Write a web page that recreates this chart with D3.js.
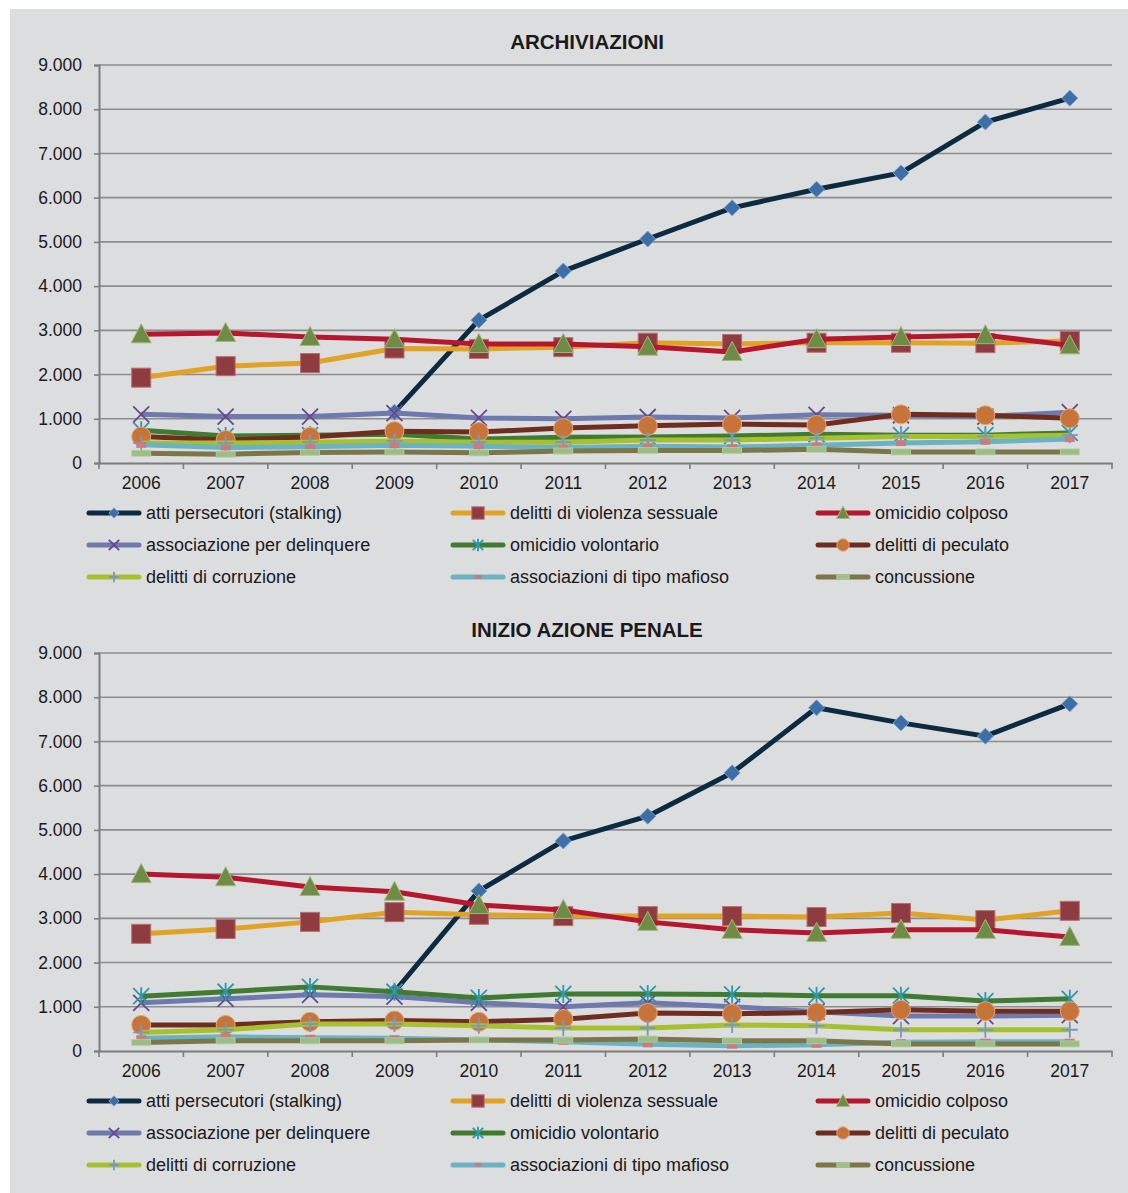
<!DOCTYPE html>
<html><head><meta charset="utf-8">
<script src="https://cdn.jsdelivr.net/npm/d3@7"></script>
<style>
html,body{margin:0;padding:0;background:#fff;}
svg{display:block;font-family:"Liberation Sans",Arial,sans-serif;}
</style></head>
<body>
<svg id="chart" width="1128" height="1193"></svg>
<script>
// ---------- DATA ----------
const years = ["2006","2007","2008","2009","2010","2011","2012","2013","2014","2015","2016","2017"];
const yTicks = [0,1000,2000,3000,4000,5000,6000,7000,8000,9000];
const seriesNames = [
  "atti persecutori (stalking)","delitti di violenza sessuale","omicidio colposo",
  "associazione per delinquere","omicidio volontario","delitti di peculato",
  "delitti di corruzione","associazioni di tipo mafioso","concussione"
];
const chartTitles = ["ARCHIVIAZIONI","INIZIO AZIONE PENALE"];

// ARCHIVIAZIONI
const archStalking     = [null,null,null,1150,3230,4340,5065,5770,6190,6560,7710,8250];
const archViolenza     = [1930,2190,2260,2590,2580,2620,2720,2690,2720,2720,2710,2760];
const archColposo      = [2910,2940,2850,2800,2690,2690,2630,2510,2800,2850,2890,2660];
const archAssociazione = [1100,1050,1050,1130,1020,1000,1040,1020,1090,1080,1050,1150];
const archVolontario   = [740,610,630,650,540,580,590,610,650,630,630,680];
const archPeculato     = [600,520,590,720,700,790,840,880,860,1100,1080,1010];
const archCorruzione   = [450,450,470,500,470,470,520,520,560,600,600,630];
const archMafioso      = [410,350,370,400,380,350,380,360,400,450,480,540];
const archConcussione  = [220,200,240,250,230,270,280,280,310,250,250,250];

// INIZIO AZIONE PENALE
const penStalking     = [null,null,null,1340,3620,4750,5310,6290,7760,7420,7120,7850];
const penViolenza     = [2650,2760,2920,3140,3080,3050,3050,3050,3030,3120,2960,3170];
const penColposo      = [4000,3930,3710,3600,3300,3190,2920,2740,2670,2740,2740,2580];
const penAssociazione = [1090,1180,1270,1230,1090,1000,1090,1000,890,790,790,810];
const penVolontario   = [1240,1340,1450,1340,1200,1290,1290,1280,1250,1250,1130,1180];
const penPeculato     = [590,590,660,690,660,720,860,840,870,930,900,900];
const penCorruzione   = [420,480,610,610,570,520,520,590,570,480,480,480];
const penMafioso      = [290,320,300,290,250,210,150,120,140,200,210,210];
const penConcussione  = [190,230,230,230,250,250,270,230,230,160,160,160];

const archSeries = [archStalking,archViolenza,archColposo,archAssociazione,archVolontario,archPeculato,archCorruzione,archMafioso,archConcussione];
const penSeries  = [penStalking,penViolenza,penColposo,penAssociazione,penVolontario,penPeculato,penCorruzione,penMafioso,penConcussione];

// ---------- STYLES ----------
const styles = [
  {line:"#0c2b40", marker:"diamond", fill:"#3d6ea6", stroke:"#7ea0cc"},
  {line:"#e0a324", marker:"square",  fill:"#8f3c40", stroke:"#b86d72"},
  {line:"#b5172f", marker:"triangle",fill:"#6f8c47", stroke:"#a0b87a"},
  {line:"#6e79ad", marker:"x",       fill:"none",    stroke:"#66498a"},
  {line:"#3f7c31", marker:"star",    fill:"none",    stroke:"#2c98a8"},
  {line:"#6f2d20", marker:"circle",  fill:"#c7743b", stroke:"#e3a476"},
  {line:"#a7c12e", marker:"plus",    fill:"none",    stroke:"#7897c6"},
  {line:"#6cb2c2", marker:"dash",    fill:"#c97a80", stroke:"#c97a80"},
  {line:"#7b7749", marker:"bar",     fill:"#9cbd86", stroke:"#b6d0a2"}
];

const FS = 17.5;
const fmt = d3.formatLocale({decimal:",",thousands:".",grouping:[3],currency:["","€"]}).format(",d");

const svg = d3.select("#chart");
svg.append("rect").attr("x",10).attr("y",9).attr("width",1118).attr("height",1184).attr("fill","#dcdddf");

function drawMarker(g, type, s, cx, cy, scale){
  const k = scale || 1;
  if(type==="diamond"){
    const r=8*k;
    g.append("path").attr("d",`M${cx},${cy-r}L${cx+r},${cy}L${cx},${cy+r}L${cx-r},${cy}Z`)
     .attr("fill",s.fill).attr("stroke",s.stroke).attr("stroke-width",1);
  } else if(type==="square"){
    const h=9.5*k;
    g.append("rect").attr("x",cx-h).attr("y",cy-h).attr("width",2*h).attr("height",2*h)
     .attr("fill",s.fill).attr("stroke",s.stroke).attr("stroke-width",1);
  } else if(type==="triangle"){
    const h=10*k;
    g.append("path").attr("d",`M${cx},${cy-h*1.05}L${cx+h},${cy+h*0.85}L${cx-h},${cy+h*0.85}Z`)
     .attr("fill",s.fill).attr("stroke",s.stroke).attr("stroke-width",1);
  } else if(type==="x"){
    const h=8*k;
    g.append("path").attr("d",`M${cx-h},${cy-h}L${cx+h},${cy+h}M${cx+h},${cy-h}L${cx-h},${cy+h}`)
     .attr("stroke",s.stroke).attr("stroke-width",1.8).attr("fill","none");
  } else if(type==="star"){
    const h=8*k;
    g.append("path").attr("d",`M${cx-h},${cy-h}L${cx+h},${cy+h}M${cx+h},${cy-h}L${cx-h},${cy+h}M${cx},${cy-h-1}L${cx},${cy+h+1}`)
     .attr("stroke",s.stroke).attr("stroke-width",1.8).attr("fill","none");
  } else if(type==="circle"){
    g.append("circle").attr("cx",cx).attr("cy",cy).attr("r",9.5*k)
     .attr("fill",s.fill).attr("stroke",s.stroke).attr("stroke-width",1);
  } else if(type==="plus"){
    const h=8*k;
    g.append("path").attr("d",`M${cx-h},${cy}L${cx+h},${cy}M${cx},${cy-h}L${cx},${cy+h}`)
     .attr("stroke",s.stroke).attr("stroke-width",1.8).attr("fill","none");
  } else if(type==="dash"){
    g.append("rect").attr("x",cx-5*k).attr("y",cy-3*k).attr("width",10*k).attr("height",6*k)
     .attr("fill",s.fill).attr("opacity",0.95);
  } else if(type==="bar"){
    g.append("rect").attr("x",cx-9.5*k).attr("y",cy-3*k).attr("width",19*k).attr("height",6*k)
     .attr("fill",s.fill).attr("stroke",s.stroke).attr("stroke-width",0.8);
  }
}

function drawChart(oy, title, series){
  const g = svg.append("g").attr("transform",`translate(0,${oy})`);
  const x = d3.scaleBand().domain(years).range([99,1112]).padding(0);
  const y = d3.scaleLinear().domain([0,9000]).range([463,65]);
  const cx = d => x(d)+x.bandwidth()/2;

  g.append("text").attr("x",587).attr("y",49).attr("text-anchor","middle")
   .attr("font-size",20.5).attr("font-weight","bold").attr("fill","#1a1a1a").text(title);

  // gridlines
  g.append("g").selectAll("line").data(yTicks.filter(t=>t>0)).join("line")
   .attr("x1",99).attr("x2",1112).attr("y1",d=>y(d)).attr("y2",d=>y(d))
   .attr("stroke","#8d8d8f").attr("stroke-width",1.6);

  // y axis
  const ya = g.append("g").attr("transform","translate(99,0)")
    .call(d3.axisLeft(y).tickValues(yTicks).tickFormat(fmt).tickSize(5).tickPadding(12));
  ya.select(".domain").attr("stroke","#7d7d7f").attr("stroke-width",2);
  ya.selectAll(".tick line").attr("stroke","#7d7d7f").attr("stroke-width",1.6);
  ya.selectAll("text").attr("font-size",FS).attr("fill","#1a1a1a").attr("font-family","'Liberation Sans',Arial,sans-serif");

  // x axis
  const xa = g.append("g").attr("transform","translate(0,463)")
    .call(d3.axisBottom(x).tickSize(0).tickPadding(14));
  xa.select(".domain").attr("stroke","#7d7d7f").attr("stroke-width",2);
  xa.selectAll("text").attr("font-size",FS).attr("fill","#1a1a1a").attr("font-family","'Liberation Sans',Arial,sans-serif");
  const bounds = years.map(d=>x(d)).concat([x(years[years.length-1])+x.bandwidth()]);
  g.append("g").selectAll("line").data(bounds).join("line")
   .attr("x1",d=>d).attr("x2",d=>d).attr("y1",463).attr("y2",469)
   .attr("stroke","#7d7d7f").attr("stroke-width",1.6);

  // series
  const line = d3.line().defined(d=>d.v!=null).x(d=>cx(d.year)).y(d=>y(d.v));
  series.forEach((vals,i)=>{
    const s = styles[i];
    const pts = years.map((yr,j)=>({year:yr,v:vals[j]}));
    const sg = g.append("g");
    sg.append("path").datum(pts).attr("d",line).attr("fill","none")
      .attr("stroke",s.line).attr("stroke-width",5).attr("stroke-linejoin","round");
    pts.filter(p=>p.v!=null).forEach(p=>drawMarker(sg,s.marker,s,cx(p.year),y(p.v),1));
  });

  // legend
  const colX = [89,453,818];
  const rowY = [513,545,577];
  seriesNames.forEach((name,i)=>{
    const s = styles[i];
    const lx = colX[i%3], ly = rowY[Math.floor(i/3)];
    const lg = g.append("g");
    lg.append("line").attr("x1",lx).attr("x2",lx+50).attr("y1",ly).attr("y2",ly)
      .attr("stroke",s.line).attr("stroke-width",5).attr("stroke-linecap","round");
    drawMarker(lg,s.marker,s,lx+25,ly,0.65);
    lg.append("text").attr("x",lx+57).attr("y",ly).attr("dy","0.35em")
      .attr("font-size",18).attr("fill","#1a1a1a").text(name);
  });
}

drawChart(0, chartTitles[0], archSeries);
drawChart(588, chartTitles[1], penSeries);
</script>
</body></html>
